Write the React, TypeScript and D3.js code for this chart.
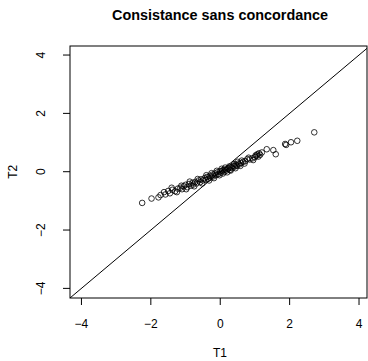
import { scaleLinear } from 'd3';

const t1 = [
  -2.25, -1.98, -1.78, -1.72, -1.58, -1.5, -1.45, -1.38, -1.3, -1.22, -1.15, -1.1, -1.05, -1.0, -0.95,
  -0.9, -0.85, -0.8, -0.78, -0.72, -0.68, -0.62, -0.58, -0.55, -0.5, -0.45, -0.42, -0.38, -0.35, -0.3,
  -0.28, -0.22, -0.2, -0.15, -0.12, -0.08, -0.05, 0.0, 0.02, 0.06, 0.1, 0.12, 0.15, 0.18, 0.22, 0.25,
  0.28, 0.32, 0.35, 0.38, 0.42, 0.45, 0.48, 0.52, 0.55, 0.6, 0.66, 0.72, 0.78, 0.85, 0.93, 1.0, 1.05,
  1.07, 1.12, 1.15, 1.34, 1.53, 1.6, 1.87, 1.9, 2.04, 2.22, 2.71,
  -1.62, -1.4, -1.25, -1.12, -0.98, -0.88, -0.75, -0.65, -0.52, -0.4, -0.32, -0.25, -0.18, -0.1, -0.02,
  0.04, 0.08, 0.14, 0.2, 0.26, 0.3, 0.4, 0.44, 0.5, 0.58, 0.62, 0.7, 0.82, 0.95, 1.02, 1.1, 1.2,
];
const t2 = [
  -1.07, -0.92, -0.88, -0.8, -0.78, -0.66, -0.74, -0.62, -0.67, -0.58, -0.55, -0.6, -0.5, -0.45, -0.53,
  -0.42, -0.48, -0.38, -0.44, -0.35, -0.4, -0.3, -0.36, -0.26, -0.3, -0.22, -0.28, -0.18, -0.24, -0.14,
  -0.2, -0.1, -0.16, -0.06, -0.12, -0.02, -0.08, 0.02, -0.03, 0.04, 0.06, 0.0, 0.08, 0.04, 0.1, 0.12,
  0.06, 0.16, 0.12, 0.2, 0.18, 0.24, 0.2, 0.28, 0.25, 0.3, 0.34, 0.36, 0.43, 0.42, 0.46, 0.5, 0.55,
  0.6, 0.63, 0.58, 0.77, 0.74, 0.6, 0.95, 0.92, 1.01, 1.06, 1.35,
  -0.7, -0.55, -0.7, -0.48, -0.6, -0.34, -0.5, -0.25, -0.4, -0.12, -0.3, -0.05, -0.22, 0.03, -0.12,
  0.1, -0.06, 0.14, -0.02, 0.18, 0.04, 0.26, 0.12, 0.34, 0.2, 0.38, 0.28, 0.48, 0.4, 0.56, 0.52, 0.66,
];
const ticks = [-4, -2, 0, 2, 4];

const W = 368;
const H = 361;
const box = { left: 70, right: 367, top: 46, bottom: 298 };
const font = '"Liberation Sans", Arial, sans-serif';

export default function App() {
  const x = scaleLinear().domain([-4.33, 4.23]).range([box.left, box.right]);
  const y = scaleLinear().domain([-4.33, 4.31]).range([box.bottom, box.top]);

  return (
    <svg width={W} height={H} style={{ position: 'absolute', left: 0, top: 0, background: '#fff' }}>
      <text x={220} y={20} textAnchor="middle" fontFamily={font} fontWeight="bold" fontSize={14.4}>
        Consistance sans concordance
      </text>

      <clipPath id="plotclip">
        <rect x={box.left} y={box.top} width={box.right - box.left} height={box.bottom - box.top} />
      </clipPath>

      {/* identity line y = x */}
      <line
        x1={x(-4.4)} y1={y(-4.4)} x2={x(4.4)} y2={y(4.4)}
        stroke="#000" strokeWidth={1} clipPath="url(#plotclip)"
      />

      {t1.map((v, i) => (
        <circle key={i} cx={x(v)} cy={y(t2[i])} r={2.8} fill="none" stroke="#000" strokeWidth={0.8} />
      ))}

      <rect
        x={box.left} y={box.top} width={box.right - box.left} height={box.bottom - box.top}
        fill="none" stroke="#000" strokeWidth={1}
      />

      {/* x axis */}
      {ticks.map((t) => (
        <g key={`x${t}`}>
          <line x1={x(t)} x2={x(t)} y1={box.bottom} y2={box.bottom + 7} stroke="#000" />
          <text x={x(t)} y={328} textAnchor="middle" fontFamily={font} fontSize={12}>
            {t < 0 ? `\u2212${-t}` : t}
          </text>
        </g>
      ))}
      {/* y axis */}
      {ticks.map((t) => (
        <g key={`y${t}`}>
          <line x1={box.left - 7} x2={box.left} y1={y(t)} y2={y(t)} stroke="#000" />
          <text
            transform={`translate(45,${y(t)}) rotate(-90)`}
            textAnchor="middle" fontFamily={font} fontSize={12}
          >
            {t < 0 ? `\u2212${-t}` : t}
          </text>
        </g>
      ))}

      <text x={220} y={357} textAnchor="middle" fontFamily={font} fontSize={12}>T1</text>
      <text transform={`translate(17,${y(0)}) rotate(-90)`} textAnchor="middle" fontFamily={font} fontSize={12}>
        T2
      </text>
    </svg>
  );
}
